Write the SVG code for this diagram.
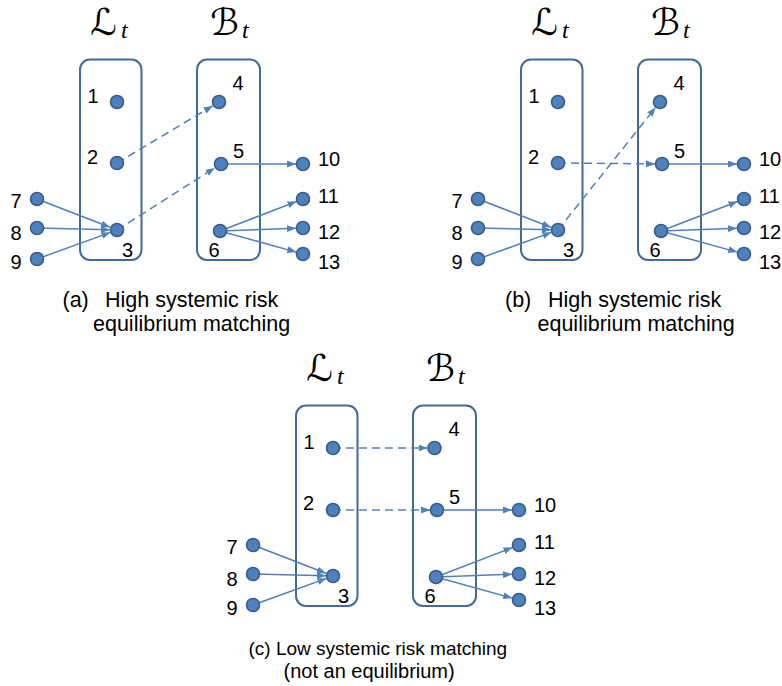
<svg xmlns="http://www.w3.org/2000/svg" width="782" height="686" viewBox="0 0 782 686">
<style>
.box{fill:none;stroke:#41699B;stroke-width:2}
.nd{fill:#4F81BD;stroke:#385D8A;stroke-width:1.6}
.ln{fill:none;stroke:#4F81BD;stroke-width:1.5;marker-end:url(#ah)}
.ds{stroke-dasharray:8,5}
.lb{font-family:"Liberation Sans",Arial,sans-serif;font-size:20px;fill:#000}
.cap{font-family:"Liberation Sans",Arial,sans-serif;font-size:21.5px;fill:#000}
.cal{font-family:"DejaVu Serif","DejaVu Sans",serif;font-size:37px;fill:#000}
.sub{font-family:"Liberation Serif","Times New Roman",serif;font-style:italic;font-size:24px;fill:#000}
</style>
<defs>
<marker id="ah" markerUnits="userSpaceOnUse" markerWidth="9" markerHeight="7" refX="9" refY="3.5" orient="auto">
<path d="M0,0 L9,3.5 L0,7 z" fill="#4F81BD"/>
</marker>
</defs>

<!-- Panel (a) -->
<g id="panel-a">
<g id="a-titles">
<text class="cal" x="90" y="35">ℒ</text><text class="sub" x="121" y="38">t</text>
<text class="cal" x="210" y="35">ℬ</text><text class="sub" x="242" y="38">t</text>
</g>
<g id="a-L"><rect class="box" x="80" y="59.5" width="61.5" height="200.5" rx="10"/></g>
<g id="a-B"><rect class="box" x="197" y="59.5" width="63" height="200.5" rx="10"/></g>
<g id="a-connectors">
<line class="ln ds" x1="117" y1="163" x2="212.6" y2="105.9"/>
<line class="ln ds" x1="117" y1="230" x2="214.7" y2="168"/>
<line class="ln" x1="37" y1="199" x2="110" y2="227.3"/>
<line class="ln" x1="37" y1="228" x2="110" y2="229.8"/>
<line class="ln" x1="37" y1="259" x2="110.4" y2="232.4"/>
<line class="ln" x1="221" y1="164" x2="296" y2="164"/>
<line class="ln" x1="220" y1="231" x2="296.5" y2="201.5"/>
<line class="ln" x1="220" y1="231" x2="296" y2="228.3"/>
<line class="ln" x1="220" y1="231" x2="296.3" y2="252.1"/>
</g>
<g id="a-n1"><circle class="nd" cx="117" cy="102" r="6.5"/><text class="lb" x="93" y="103" text-anchor="middle">1</text></g>
<g id="a-n2"><circle class="nd" cx="117" cy="163" r="6.5"/><text class="lb" x="92.5" y="164" text-anchor="middle">2</text></g>
<g id="a-n3"><circle class="nd" cx="117" cy="230" r="6.5"/><text class="lb" x="127.5" y="257" text-anchor="middle">3</text></g>
<g id="a-n4"><circle class="nd" cx="219" cy="102" r="6.5"/><text class="lb" x="238" y="90" text-anchor="middle">4</text></g>
<g id="a-n5"><circle class="nd" cx="221" cy="164" r="6.5"/><text class="lb" x="238.5" y="158" text-anchor="middle">5</text></g>
<g id="a-n6"><circle class="nd" cx="220" cy="231" r="6.5"/><text class="lb" x="214" y="257" text-anchor="middle">6</text></g>
<g id="a-n7"><circle class="nd" cx="37" cy="199" r="6.5"/><text class="lb" x="16" y="208" text-anchor="middle">7</text></g>
<g id="a-n8"><circle class="nd" cx="37" cy="228" r="6.5"/><text class="lb" x="16" y="240" text-anchor="middle">8</text></g>
<g id="a-n9"><circle class="nd" cx="37" cy="259" r="6.5"/><text class="lb" x="16" y="269" text-anchor="middle">9</text></g>
<g id="a-n10"><circle class="nd" cx="303" cy="164" r="6.5"/><text class="lb" x="318" y="166">10</text></g>
<g id="a-n11"><circle class="nd" cx="303" cy="199" r="6.5"/><text class="lb" x="318" y="203">11</text></g>
<g id="a-n12"><circle class="nd" cx="303" cy="228" r="6.5"/><text class="lb" x="318" y="239">12</text></g>
<g id="a-n13"><circle class="nd" cx="303" cy="254" r="6.5"/><text class="lb" x="318" y="269">13</text></g>
<g id="a-caption">
<text class="cap" y="307"><tspan x="62.5">(a)</tspan><tspan x="105">High systemic risk</tspan></text>
<text class="cap" x="93" y="331">equilibrium matching</text>
</g>
</g>

<!-- Panel (b) -->
<g id="panel-b" transform="translate(441,0)">
<g id="b-titles">
<text class="cal" x="90" y="35">ℒ</text><text class="sub" x="121" y="38">t</text>
<text class="cal" x="210" y="35">ℬ</text><text class="sub" x="242" y="38">t</text>
</g>
<g id="b-L"><rect class="box" x="80" y="59.5" width="61.5" height="200.5" rx="10"/></g>
<g id="b-B"><rect class="box" x="197" y="59.5" width="63" height="200.5" rx="10"/></g>
<g id="b-connectors">
<line class="ln ds" x1="117" y1="163" x2="214" y2="163.9"/>
<line class="ln ds" x1="117" y1="230" x2="214.6" y2="107.5"/>
<line class="ln" x1="37" y1="199" x2="110" y2="227.3"/>
<line class="ln" x1="37" y1="228" x2="110" y2="229.8"/>
<line class="ln" x1="37" y1="259" x2="110.4" y2="232.4"/>
<line class="ln" x1="221" y1="164" x2="296" y2="164"/>
<line class="ln" x1="220" y1="231" x2="296.5" y2="201.5"/>
<line class="ln" x1="220" y1="231" x2="296" y2="228.3"/>
<line class="ln" x1="220" y1="231" x2="296.3" y2="252.1"/>
</g>
<g id="b-n1"><circle class="nd" cx="117" cy="102" r="6.5"/><text class="lb" x="93" y="103" text-anchor="middle">1</text></g>
<g id="b-n2"><circle class="nd" cx="117" cy="163" r="6.5"/><text class="lb" x="92.5" y="164" text-anchor="middle">2</text></g>
<g id="b-n3"><circle class="nd" cx="117" cy="230" r="6.5"/><text class="lb" x="127.5" y="257" text-anchor="middle">3</text></g>
<g id="b-n4"><circle class="nd" cx="219" cy="102" r="6.5"/><text class="lb" x="238" y="90" text-anchor="middle">4</text></g>
<g id="b-n5"><circle class="nd" cx="221" cy="164" r="6.5"/><text class="lb" x="238.5" y="158" text-anchor="middle">5</text></g>
<g id="b-n6"><circle class="nd" cx="220" cy="231" r="6.5"/><text class="lb" x="214" y="257" text-anchor="middle">6</text></g>
<g id="b-n7"><circle class="nd" cx="37" cy="199" r="6.5"/><text class="lb" x="16" y="208" text-anchor="middle">7</text></g>
<g id="b-n8"><circle class="nd" cx="37" cy="228" r="6.5"/><text class="lb" x="16" y="240" text-anchor="middle">8</text></g>
<g id="b-n9"><circle class="nd" cx="37" cy="259" r="6.5"/><text class="lb" x="16" y="269" text-anchor="middle">9</text></g>
<g id="b-n10"><circle class="nd" cx="303" cy="164" r="6.5"/><text class="lb" x="318" y="166">10</text></g>
<g id="b-n11"><circle class="nd" cx="303" cy="199" r="6.5"/><text class="lb" x="318" y="203">11</text></g>
<g id="b-n12"><circle class="nd" cx="303" cy="228" r="6.5"/><text class="lb" x="318" y="239">12</text></g>
<g id="b-n13"><circle class="nd" cx="303" cy="254" r="6.5"/><text class="lb" x="318" y="269">13</text></g>
<g id="b-caption">
<text class="cap" y="307"><tspan x="64">(b)</tspan><tspan x="107">High systemic risk</tspan></text>
<text class="cap" x="96.5" y="331">equilibrium matching</text>
</g>
</g>

<!-- Panel (c) -->
<g id="panel-c" transform="translate(216,346)">
<g id="c-titles">
<text class="cal" x="90" y="35">ℒ</text><text class="sub" x="121" y="38">t</text>
<text class="cal" x="210" y="35">ℬ</text><text class="sub" x="242" y="38">t</text>
</g>
<g id="c-L"><rect class="box" x="80" y="59.5" width="61.5" height="200.5" rx="10"/></g>
<g id="c-B"><rect class="box" x="197" y="59.5" width="63" height="200.5" rx="10"/></g>
<g id="c-connectors">
<line class="ln ds" x1="117" y1="102" x2="211.5" y2="102"/>
<line class="ln ds" x1="117" y1="164" x2="214" y2="164"/>
<line class="ln" x1="37" y1="199" x2="110" y2="227.3"/>
<line class="ln" x1="37" y1="228" x2="110" y2="229.8"/>
<line class="ln" x1="37" y1="259" x2="110.4" y2="232.4"/>
<line class="ln" x1="221" y1="164" x2="296" y2="164"/>
<line class="ln" x1="220" y1="231" x2="296.5" y2="201.5"/>
<line class="ln" x1="220" y1="231" x2="296" y2="228.3"/>
<line class="ln" x1="220" y1="231" x2="296.3" y2="252.1"/>
</g>
<g id="c-n1"><circle class="nd" cx="117" cy="102" r="6.5"/><text class="lb" x="93" y="103" text-anchor="middle">1</text></g>
<g id="c-n2"><circle class="nd" cx="117" cy="164" r="6.5"/><text class="lb" x="92.5" y="164" text-anchor="middle">2</text></g>
<g id="c-n3"><circle class="nd" cx="117" cy="230" r="6.5"/><text class="lb" x="127.5" y="257" text-anchor="middle">3</text></g>
<g id="c-n4"><circle class="nd" cx="218.5" cy="102" r="6.5"/><text class="lb" x="238" y="90" text-anchor="middle">4</text></g>
<g id="c-n5"><circle class="nd" cx="221" cy="164" r="6.5"/><text class="lb" x="238.5" y="158" text-anchor="middle">5</text></g>
<g id="c-n6"><circle class="nd" cx="220" cy="231" r="6.5"/><text class="lb" x="214" y="257" text-anchor="middle">6</text></g>
<g id="c-n7"><circle class="nd" cx="37" cy="199" r="6.5"/><text class="lb" x="16" y="208" text-anchor="middle">7</text></g>
<g id="c-n8"><circle class="nd" cx="37" cy="228" r="6.5"/><text class="lb" x="16" y="240" text-anchor="middle">8</text></g>
<g id="c-n9"><circle class="nd" cx="37" cy="259" r="6.5"/><text class="lb" x="16" y="269" text-anchor="middle">9</text></g>
<g id="c-n10"><circle class="nd" cx="303" cy="164" r="6.5"/><text class="lb" x="318" y="166">10</text></g>
<g id="c-n11"><circle class="nd" cx="303" cy="199" r="6.5"/><text class="lb" x="318" y="203">11</text></g>
<g id="c-n12"><circle class="nd" cx="303" cy="228" r="6.5"/><text class="lb" x="318" y="239">12</text></g>
<g id="c-n13"><circle class="nd" cx="303" cy="254" r="6.5"/><text class="lb" x="318" y="269">13</text></g>
</g>
<g id="c-caption">
<text class="cap" style="font-size:19px" x="248.5" y="655">(c) Low systemic risk matching</text>
<text class="cap" style="font-size:20px" x="283.5" y="678">(not an equilibrium)</text>
</g>
</svg>
